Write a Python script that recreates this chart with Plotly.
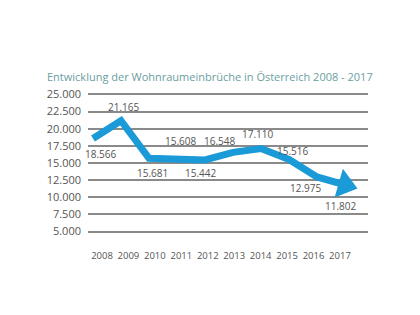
import plotly.graph_objects as go

years = ["2008", "2009", "2010", "2011", "2012", "2013", "2014", "2015", "2016", "2017"]
values = [18566, 21165, 15681, 15608, 15442, 16548, 17110, 15516, 12975, 11802]
value_labels = ["18.566", "21.165", "15.681", "15.608", "15.442", "16.548", "17.110", "15.516", "12.975", "11.802"]
title_text = "Entwicklung der Wohnraumeinbrüche in Österreich 2008 - 2017"

# label offsets (px) relative to each point
label_shift_x = [7, 2, 3, 3, -5, -14, -4, 3, -12, -5]
label_shift_y = [-15, 14, -15, 18, -13, 11, 15, 8, -11, -21]

BLUE = "#1a9ad7"
GREY = "#555555"
idx = list(range(len(years)))

fig = go.Figure()
fig.add_trace(go.Scatter(
    x=idx, y=values, mode="lines",
    line=dict(color=BLUE, width=7),
    hoverinfo="skip", showlegend=False, cliponaxis=False,
))
# arrow head on the last segment
fig.add_trace(go.Scatter(
    x=idx[-2:], y=values[-2:], mode="markers",
    marker=dict(symbol="triangle-up", size=[0, 26], angleref="previous",
                color=BLUE, opacity=1, line=dict(width=0)),
    hoverinfo="skip", showlegend=False, cliponaxis=False,
))
# invisible trace for the label axis
fig.add_trace(go.Scatter(x=idx, y=values, xaxis="x2", mode="markers",
                         marker=dict(opacity=0), hoverinfo="skip", showlegend=False))

for i, (v, t) in enumerate(zip(values, value_labels)):
    fig.add_annotation(x=i, y=v, text=t, showarrow=False,
                       xshift=label_shift_x[i], yshift=label_shift_y[i],
                       font=dict(size=10, color=GREY, family="Open Sans"))

fig.add_annotation(text=title_text, xref="paper", yref="paper", x=-0.155, y=1.0,
                   yshift=17, xanchor="left", yanchor="middle", showarrow=False,
                   font=dict(size=11, color="#6a9ea0", family="Open Sans"))

fig.update_layout(
    width=420, height=315,
    margin=dict(l=88, r=52, t=92.6, b=81.6),
    paper_bgcolor="white", plot_bgcolor="white",
    separators=",.",
    font=dict(family="Open Sans", color=GREY, size=10),
    xaxis=dict(range=[-5 / 28, 10 - 5 / 28], showticklabels=False, showgrid=False,
               zeroline=False, showline=False, ticks=""),
    xaxis2=dict(overlaying="x", side="bottom", range=[-0.529, 10.06],
                tickmode="array", tickvals=idx, ticktext=years,
                showgrid=False, zeroline=False, showline=False, ticks="",
                ticklabelstandoff=15, tickfont=dict(size=9.5, color=GREY)),
    yaxis=dict(range=[4800, 25200], tickmode="linear", tick0=5000, dtick=2500,
               tickformat=",d", showgrid=True, gridcolor="#8a8a8a", gridwidth=1.5,
               zeroline=False, showline=False, ticks="", ticklabelstandoff=6,
               tickfont=dict(size=11, color=GREY)),
)

fig.write_html("out.html")
